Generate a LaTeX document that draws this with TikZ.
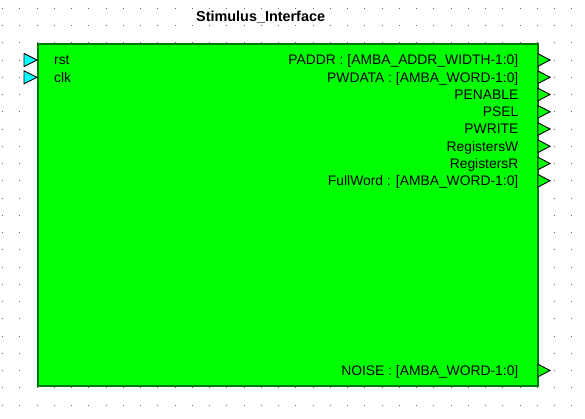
\documentclass[tikz,border=0pt]{standalone}
\usepackage{fontspec}
\setmainfont{Liberation Sans}
\definecolor{pincyan}{RGB}{0,255,255}
\definecolor{blockgreen}{RGB}{0,255,0}
\definecolor{bordergreen}{RGB}{0,120,0}
\definecolor{griddot}{RGB}{100,100,100}
\begin{document}
\begin{tikzpicture}[x=1pt,y=-1pt,
  lbl/.style={inner sep=0pt,font=\fontsize{13.85}{15}\selectfont},
  inpin/.style={fill=pincyan,draw=black,line width=0.9pt,line join=miter},
  outpin/.style={fill=blockgreen,draw=black,line width=0.9pt,line join=miter},
  blockbox/.style={fill=blockgreen,draw=bordergreen,line width=2pt}]
\useasboundingbox (0,0) rectangle (585,418);
\fill[white] (0,0) rectangle (585,418);
% grid dots
\foreach \i in {0,...,33}{
  \foreach \j in {0,...,23}{
    \fill[griddot] ({2+17.25*\i},{7.8+17.25*\j}) rectangle ++(1,1);
  }
}
% title
\node[lbl,anchor=base west,font=\fontsize{14.4}{16}\selectfont\bfseries] (title) at (196,21.8) {Stimulus\_Interface};
% block
\path[blockbox] (38,44) rectangle (537.5,386);
\node[inner sep=0pt,minimum width=499pt,minimum height=342pt] (block) at (287.75,215) {};
% input pins
\foreach \y in {60,77.3}{
  \path[inpin] (24,\y-6.5) -- (37,\y) -- (24,\y+6.5) -- cycle;
}
\node[lbl,anchor=base west] (rst) at (54,64.9) {rst};
\node[lbl,anchor=base west] (clk) at (54,82.2) {clk};
% output pins
\foreach \y in {60,77.25,94.5,111.75,129,146.25,163.5,180.75,370.5}{
  \path[outpin] (538,\y-6.3) -- (550,\y) -- (538,\y+6.3) -- cycle;
}
\node[lbl,anchor=base east] (paddr) at (518.5,64.9) {PADDR : [AMBA\_ADDR\_WIDTH-1:0]};
\node[lbl,anchor=base east] (pwdata) at (518.5,82.15) {PWDATA : [AMBA\_WORD-1:0]};
\node[lbl,anchor=base east] (penable) at (518.5,99.4) {PENABLE};
\node[lbl,anchor=base east] (psel) at (518.5,116.65) {PSEL};
\node[lbl,anchor=base east] (pwrite) at (518.5,133.9) {PWRITE};
\node[lbl,anchor=base east] (regw) at (518.5,151.15) {RegistersW};
\node[lbl,anchor=base east] (regr) at (518.5,168.4) {RegistersR};
\node[lbl,anchor=base east] (fullword) at (518.5,185.65) {FullWord : [AMBA\_WORD-1:0]};
\node[lbl,anchor=base east] (noise) at (518.5,375.4) {NOISE : [AMBA\_WORD-1:0]};
\end{tikzpicture}
\end{document}
